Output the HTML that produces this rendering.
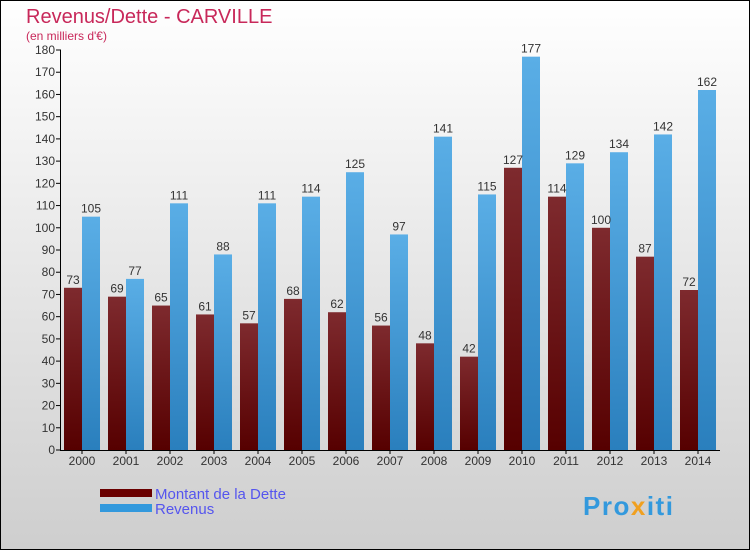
<!DOCTYPE html>
<html><head><meta charset="utf-8"><style>
html,body{margin:0;padding:0}
body{width:750px;height:550px;overflow:hidden}
svg{display:block;font-family:"Liberation Sans","DejaVu Sans",sans-serif}
</style></head><body>
<svg id="c" width="750" height="550" xmlns="http://www.w3.org/2000/svg">
<defs>
<linearGradient id="bg" x1="0" y1="0" x2="0" y2="1"><stop offset="0" stop-color="#ffffff"/><stop offset="1" stop-color="#cecece"/></linearGradient>
<linearGradient id="gd" x1="0" y1="0" x2="0" y2="1"><stop offset="0" stop-color="#7e2a2e"/><stop offset="1" stop-color="#560000"/></linearGradient>
<linearGradient id="gr" x1="0" y1="0" x2="0" y2="1"><stop offset="0" stop-color="#5aaee6"/><stop offset="1" stop-color="#2a7fbd"/></linearGradient>
</defs>
<rect x="0.5" y="0.5" width="749" height="549" fill="url(#bg)" stroke="#000"/>
<text x="26" y="23" font-size="20" fill="#c8285a">Revenus/Dette - CARVILLE</text>
<text x="26" y="40" font-size="12" fill="#c8285a">(en milliers d'€)</text>
<g id="plot"></g>
<g>
<rect x="100" y="489" width="52" height="8" fill="#6a0000"/>
<text x="155" y="499" font-size="15" fill="#5555ee">Montant de la Dette</text>
<rect x="100" y="504" width="52" height="8" fill="#3399dd"/>
<text x="155" y="514" font-size="15" fill="#5555ee">Revenus</text>
</g>
<text x="583" y="515" font-size="26" font-weight="bold" letter-spacing="1.5" fill="#3399dd">Pro<tspan fill="#f0a020">x</tspan>iti</text>
</svg>
<script>
const years=["2000","2001","2002","2003","2004","2005","2006","2007","2008","2009","2010","2011","2012","2013","2014"];
const dette=[73,69,65,61,57,68,62,56,48,42,127,114,100,87,72];
const revenus=[105,77,111,88,111,114,125,97,141,115,177,129,134,142,162];
const yTicks=[0,10,20,30,40,50,60,70,80,90,100,110,120,130,140,150,160,170,180];
const NS="http://www.w3.org/2000/svg";
const g=document.getElementById('plot');
const y0=450,yMax=180,ph=400,x0=82,step=44,bw=18;
const Y=v=>y0-v/yMax*ph;
const X=i=>x0+i*step;
function mk(t,a){const e=document.createElementNS(NS,t);for(const k in a)e.setAttribute(k,a[k]);g.appendChild(e);return e;}
yTicks.forEach(v=>{
  const l=mk('line',{x1:56,x2:61,y1:Y(v),y2:Y(v),stroke:'#000'});
  
  
  const t=mk('text',{x:55,y:Y(v)+4,'font-size':12,'text-anchor':'end',fill:'#333'});
  t.textContent=v;
  
  
});
years.forEach((yr,i)=>{
  const cx=X(i);
  const b1=mk('rect',{x:cx-bw,y:Y(dette[i]),width:bw,height:y0-Y(dette[i]),fill:'url(#gd)'});
  
  
  const b2=mk('rect',{x:cx,y:Y(revenus[i]),width:bw,height:y0-Y(revenus[i]),fill:'url(#gr)'});
  
  
  const t1=mk('text',{x:cx-bw/2,y:Y(dette[i])-4,'font-size':12,'text-anchor':'middle',fill:'#333'});
  t1.textContent=dette[i];
  
  
  const t2=mk('text',{x:cx+bw/2,y:Y(revenus[i])-4,'font-size':12,'text-anchor':'middle',fill:'#333'});
  t2.textContent=revenus[i];
  
  
  const tk=mk('line',{x1:cx,x2:cx,y1:y0,y2:y0+4,stroke:'#000'});
  
  
  const xl=mk('text',{x:cx,y:y0+15,'font-size':12,'text-anchor':'middle',fill:'#333'});
  xl.textContent=yr;
  
  
});
const ya=mk('line',{x1:60.5,x2:60.5,y1:Y(yMax),y2:y0,stroke:'#000'});


const xa=mk('line',{x1:60,x2:720,y1:y0+0.5,y2:y0+0.5,stroke:'#000'});


</script>
</body></html>
